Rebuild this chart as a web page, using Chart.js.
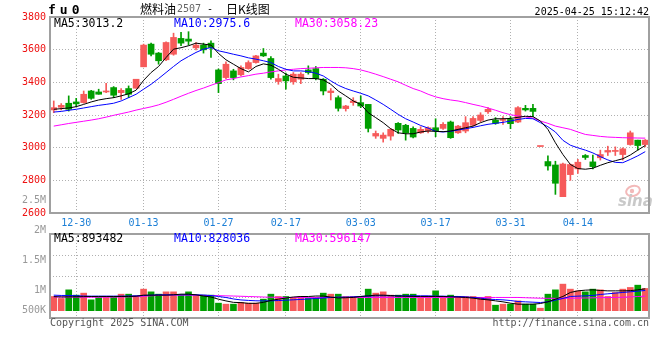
<!DOCTYPE html>
<html>
<head>
<meta charset="utf-8">
<script src="https://cdn.jsdelivr.net/npm/chart.js@4.4.0/dist/chart.umd.min.js"></script>
<style>
  body { margin: 0; background: #fff; }
  #wrap { position: relative; width: 660px; height: 360px; }
  #wrap canvas { position: absolute; left: 0; }
  #kline { top: 0; }
  #vol { top: 190px; }
</style>
</head>
<body>
<div id="wrap">
  <canvas id="kline" width="660" height="228"></canvas>
  <canvas id="vol" width="660" height="170"></canvas>
</div>
<script>
// Trading days shown (fu0, daily)
const dates = ['12-25','12-26','12-27','12-30','12-31','01-02','01-03','01-06','01-07','01-08',
  '01-09','01-10','01-13','01-14','01-15','01-16','01-17','01-20','01-21','01-22',
  '01-23','01-24','01-27','02-05','02-06','02-07','02-10','02-11','02-12','02-13',
  '02-14','02-17','02-18','02-19','02-20','02-21','02-24','02-25','02-26','02-27',
  '02-28','03-03','03-04','03-05','03-06','03-07','03-10','03-11','03-12','03-13',
  '03-14','03-17','03-18','03-19','03-20','03-21','03-24','03-25','03-26','03-27',
  '03-28','03-31','04-01','04-02','04-03','04-07','04-08','04-09','04-10','04-11',
  '04-14','04-15','04-16','04-17','04-18','04-21','04-22','04-23','04-24','04-25'];
const tickDates = ['12-30','01-13','01-27','02-17','03-03','03-17','03-31','04-14'];

const opens = [3231,3247,3272,3280,3276,3347,3341,3341,3368,3337, 3362,3364,3495,3634,3579,3538,3572,3669,3665,3611,
  3628,3640,3476,3429,3470,3446,3484,3521,3579,3546, 3405,3439,3403,3419,3476,3484,3419,3337,3306,3239,
  3276,3276,3265,3071,3057,3071,3149,3137,3118,3091, 3102,3122,3118,3157,3091,3102,3137,3167,3220,3169,
  3167,3173,3157,3241,3241,3007,2915,2894,2700,2835, 2870,2952,2913,2938,2973,2977,2958,3019,3046,3019];
const highs = [3286,3270,3317,3302,3347,3351,3358,3394,3374,3362, 3378,3419,3634,3640,3583,3648,3701,3706,3710,3644,
  3640,3654,3482,3525,3480,3501,3532,3566,3607,3558, 3450,3456,3460,3460,3501,3497,3423,3362,3317,3259,
  3306,3317,3265,3102,3091,3118,3153,3143,3128,3128, 3128,3177,3153,3163,3137,3190,3190,3214,3245,3184,
  3190,3190,3251,3259,3265,3007,2950,2917,2905,2900, 2928,2958,2955,2985,3009,3005,2999,3102,3046,3050];
const lows = [3214,3231,3224,3251,3272,3296,3327,3337,3306,3296, 3306,3364,3495,3562,3511,3532,3566,3624,3628,3599,
  3579,3552,3337,3423,3415,3439,3480,3517,3558,3419, 3388,3358,3388,3392,3450,3415,3323,3292,3224,3224,
  3259,3245,3096,3057,3034,3046,3087,3046,3059,3087, 3091,3067,3112,3057,3087,3091,3132,3157,3210,3143,
  3143,3116,3153,3224,3190,3007,2862,2714,2700,2800, 2842,2928,2870,2924,2952,2952,2924,3015,2985,3005];
const closes = [3245,3259,3235,3268,3327,3302,3327,3347,3321,3351, 3327,3419,3628,3572,3532,3644,3675,3640,3652,3628,
  3599,3613,3392,3511,3429,3491,3521,3562,3562,3429, 3423,3409,3450,3450,3460,3423,3347,3347,3241,3255,
  3286,3255,3118,3087,3077,3112,3108,3091,3065,3112, 3122,3102,3143,3061,3132,3153,3179,3200,3235,3149,
  3173,3147,3245,3231,3222,3007,2888,2782,2900,2897, 2911,2940,2884,2958,2983,2983,2993,3091,3013,3046];

const ma5 = [3235,3239,3243,3251,3265,3280,3292,3300,3306,3317, 3330,3352,3412,3460,3497,3552,3603,3612,3624,3640,
  3634,3628,3577,3538,3511,3484,3464,3497,3513,3505, 3480,3450,3431,3427,3423,3423,3415,3388,3347,3317,
  3286,3265,3214,3184,3153,3116,3091,3085,3085,3096, 3102,3100,3098,3102,3112,3122,3132,3153,3169,3177,
  3177,3179,3186,3192,3190,3163,3112,3030,2958,2897, 2872,2868,2874,2892,2908,2920,2932,2955,2985,3013.2];
const ma10 = [3218,3222,3229,3235,3243,3251,3259,3265,3272,3286, 3306,3327,3358,3388,3423,3460,3497,3532,3558,3583,
  3603,3613,3593,3583,3572,3562,3550,3542,3532,3521, 3497,3480,3470,3470,3466,3456,3439,3409,3382,3362,
  3347,3333,3317,3292,3265,3235,3204,3177,3157,3136, 3120,3100,3096,3100,3108,3116,3124,3134,3143,3149,
  3155,3163,3173,3179,3177,3153,3128,3096,3045,3015, 2999,2985,2968,2945,2925,2910,2908,2928,2950,2975.6];
const ma30 = [3132,3140,3148,3155,3162,3169,3177,3187,3198,3208, 3218,3230,3240,3250,3262,3278,3296,3315,3333,3350,
  3365,3382,3398,3415,3423,3433,3441,3450,3456,3464, 3470,3476,3480,3484,3486,3489,3491,3491,3491,3489,
  3484,3476,3464,3450,3435,3419,3403,3382,3362,3347, 3327,3311,3300,3292,3286,3276,3265,3255,3243,3229,
  3214,3202,3194,3188,3181,3163,3149,3132,3122,3112, 3096,3081,3075,3069,3065,3063,3061,3060,3059,3058.23];
const priceTicks = [2600, 2800, 3000, 3200, 3400, 3600, 3800];

const volumes = [582000,500000,853000,636000,718000,443000,541000,582000,582000,676000,
  676000,607000,882000,771000,676000,771000,771000,640000,771000,636000,
  636000,636000,308000,267000,267000,336000,308000,308000,472000,676000,
  582000,582000,541000,582000,500000,541000,718000,676000,676000,582000,
  582000,582000,882000,718000,771000,636000,636000,676000,676000,582000,
  582000,812000,582000,636000,582000,582000,582000,541000,582000,225000,
  267000,267000,402000,267000,267000,102000,676000,853000,1087000,882000,
  812000,771000,882000,853000,582000,746000,882000,951000,1045000,910000];
const volMa5 = [575000,565000,565000,570000,575000,580000,582000,582000,582000,582000,
  582000,590000,636000,636000,636000,636000,650000,676000,676000,650000,
  600000,560000,470000,400000,340000,330000,300000,300000,340000,420000,
  470000,520000,560000,580000,580000,600000,600000,555000,520000,530000,
  541000,582000,609000,636000,636000,620000,600000,590000,582000,582000,
  582000,582000,582000,568000,555000,541000,514000,471000,443000,402000,
  362000,307000,266000,266000,266000,293000,362000,471000,582000,746000,
  812000,840000,853000,826000,812000,812000,812000,820000,853000,893482];
const volMa10 = [636000,623000,623000,610000,600000,595000,595000,595000,595000,595000,
  600000,610000,620000,636000,650000,650000,650000,650000,650000,650000,
  640000,620000,580000,540000,480000,440000,420000,405000,400000,405000,
  415000,430000,445000,460000,480000,500000,520000,540000,555000,555000,
  568000,582000,595000,609000,609000,609000,609000,609000,609000,609000,
  609000,595000,595000,582000,582000,568000,541000,514000,471000,457000,
  443000,416000,375000,362000,348000,334000,362000,430000,500000,582000,
  595000,609000,623000,664000,691000,718000,746000,773000,800000,828036];
const volMa30 = [560000,558000,555000,552000,550000,550000,550000,552000,555000,560000,
  565000,575000,590000,610000,625000,636000,636000,636000,636000,630000,
  625000,620000,615000,607000,600000,590000,580000,570000,560000,550000,
  545000,541000,541000,541000,541000,541000,541000,541000,541000,541000,
  541000,541000,541000,541000,541000,541000,541000,541000,541000,541000,
  541000,541000,541000,541000,541000,541000,541000,541000,541000,541000,
  541000,541000,541000,530000,520000,510000,505000,505000,505000,510000,
  515000,520000,527000,532000,538000,541000,550000,565000,580000,596147];
const volTickLabels = ['2.5M', '2M', '1.5M', '1M', '500K'];

const UP = '#f65a5a', DOWN = '#009e00';
const MONO = '"DejaVu Sans Mono", "Liberation Mono", monospace';
const CJK = '"Noto Sans CJK SC", sans-serif';
const GRID = '#b0b0b0', FRAME = '#a0a0a0';
const barColors = opens.map((o, i) => closes[i] >= o ? UP : DOWN);
const tickIdx = tickDates.map(d => dates.indexOf(d));
const last = arr => arr[arr.length - 1];

function dateAxis(showLabels) {
    return {
        type: 'category',
        offset: true,
        grid: { color: GRID, lineWidth: 1, offset: false, drawTicks: false },
        border: { display: false, dash: [1, 2] },
        ticks: {
            display: showLabels, autoSkip: false, maxRotation: 0, padding: 4,
            color: '#1c7fd6', font: { family: MONO, size: 10 },
            callback: v => dates[v]
        },
        afterBuildTicks: s => { s.ticks = tickIdx.map(v => ({ value: v })); },
        afterFit: s => { s.height = showLabels ? 15 : 0; }
    };
}

function frame(ctx, a) {
    ctx.strokeStyle = FRAME;
    ctx.lineWidth = 2;
    ctx.strokeRect(a.left, a.top, a.right - a.left, a.bottom - a.top);
}

function legend(ctx, a, y, items) {
    ctx.font = '11.5px ' + MONO;
    ctx.textBaseline = 'middle';
    ctx.textAlign = 'left';
    items.forEach(([txt, color, x]) => {
        ctx.fillStyle = color;
        ctx.fillText(txt, a.left + x, y);
    });
}

// K-line panel: title row, MA legend, frame, sina mark
const klineDecor = {
    id: 'klineDecor',
    beforeDatasetsDraw(chart) {
        const { ctx, chartArea: a } = chart;
        ctx.save();
        ctx.strokeStyle = '#f3b9b9';
        ctx.lineWidth = 2;
        ctx.beginPath();
        ctx.ellipse(a.right - 16, a.bottom - 22, 7, 5, -0.3, 0, Math.PI * 2);
        ctx.stroke();
        ctx.fillStyle = '#f3b9b9';
        ctx.beginPath();
        ctx.arc(a.right - 17, a.bottom - 22, 2.2, 0, Math.PI * 2);
        ctx.fill();
        ctx.font = 'italic bold 15px "DejaVu Sans"';
        ctx.fillStyle = '#c9c9c9';
        ctx.textBaseline = 'alphabetic';
        ctx.fillText('sina', a.right - 31, a.bottom - 7);
        ctx.restore();
    },
    afterDraw(chart) {
        const { ctx, chartArea: a } = chart;
        ctx.save();
        frame(ctx, a);

        ctx.textBaseline = 'middle';
        ctx.fillStyle = '#000';
        ctx.font = 'bold 13px ' + MONO;
        ctx.letterSpacing = '4px';
        ctx.fillText('fu0', 48, 11);
        ctx.letterSpacing = '0px';

        ctx.font = '12px ' + CJK;
        ctx.fillText('燃料油', 140, 9);
        ctx.font = '10px ' + MONO;
        ctx.fillStyle = '#666';
        ctx.fillText('2507', 177, 9);
        ctx.fillStyle = '#000';
        ctx.fillText('-', 207, 9);
        ctx.font = '12px ' + CJK;
        ctx.fillText('日K线图', 226, 9);

        ctx.font = '10px ' + MONO;
        ctx.textAlign = 'right';
        ctx.fillText('2025-04-25 15:12:42', 649, 12);

        legend(ctx, a, a.top + 7, [
            ['MA5:' + last(ma5), '#000', 4],
            ['MA10:' + last(ma10), '#0000ff', 124],
            ['MA30:' + last(ma30), '#ff00ff', 245]
        ]);
        ctx.restore();
    }
};

// Volume panel: axis labels, MA legend, frame, footer
const volDecor = {
    id: 'volDecor',
    afterDraw(chart) {
        const { ctx, chartArea: a } = chart;
        ctx.save();
        frame(ctx, a);

        // Sina prints these on a 30px pitch starting above the panel, not on the gridlines
        ctx.font = '10px ' + MONO;
        ctx.fillStyle = '#999';
        ctx.textAlign = 'right';
        ctx.textBaseline = 'middle';
        volTickLabels.forEach((t, k) => {
            ctx.fillText(t, a.left - 4, Math.min(a.top - 33.5 + k * 30, a.bottom - 7.5));
        });

        legend(ctx, a, a.top + 5, [
            ['MA5:' + last(volMa5), '#000', 4],
            ['MA10:' + last(volMa10), '#0000ff', 124],
            ['MA30:' + last(volMa30), '#ff00ff', 245]
        ]);

        ctx.font = '10px ' + MONO;
        ctx.fillStyle = '#555';
        ctx.textAlign = 'left';
        ctx.fillText('Copyright 2025 SINA.COM', a.left, a.bottom + 5);
        ctx.textAlign = 'right';
        ctx.fillText('http://finance.sina.com.cn', a.right, a.bottom + 5);
        ctx.restore();
    }
};

const maLine = (data, color) => ({
    type: 'line', data, borderColor: color, borderWidth: 1,
    pointRadius: 0, tension: 0, order: 0
});

const common = {
    responsive: false,
    animation: false,
    devicePixelRatio: 1,
    events: [],
    plugins: { legend: { display: false }, tooltip: { enabled: false } }
};

// Candles: floating bars for wicks [low, high] and bodies [open, close]
new Chart(document.getElementById('kline'), {
    type: 'bar',
    data: {
        labels: dates,
        datasets: [
            {
                data: dates.map((d, i) => [lows[i], highs[i]]),
                backgroundColor: barColors, barThickness: 1, grouped: false, order: 2
            },
            {
                data: dates.map((d, i) => [opens[i], closes[i]]),
                backgroundColor: barColors, barThickness: 6, minBarLength: 1, grouped: false, order: 1
            },
            maLine(ma5, '#000000'),
            maLine(ma10, '#0000ff'),
            maLine(ma30, '#ff00ff')
        ]
    },
    options: {
        ...common,
        layout: { padding: { left: 0, right: 11, top: 17, bottom: 0 } },
        scales: {
            x: dateAxis(true),
            y: {
                min: priceTicks[0], max: last(priceTicks),
                grid: { color: GRID, lineWidth: 1, drawTicks: false },
                border: { display: false, dash: [1, 2] },
                ticks: { color: '#ee1111', font: { family: MONO, size: 10 }, padding: 4, callback: v => v },
                afterBuildTicks: s => { s.ticks = priceTicks.map(v => ({ value: v })); },
                afterFit: s => { s.width = 50; }
            }
        }
    },
    plugins: [klineDecor]
});

new Chart(document.getElementById('vol'), {
    type: 'bar',
    data: {
        labels: dates,
        datasets: [
            { data: volumes, backgroundColor: barColors, barThickness: 6, grouped: false, order: 1 },
            maLine(volMa5, '#000000'),
            maLine(volMa10, '#0000ff'),
            maLine(volMa30, '#ff00ff')
        ]
    },
    options: {
        ...common,
        layout: { padding: { left: 0, right: 11, top: 44, bottom: 42 } },
        scales: {
            x: dateAxis(false),
            y: {
                min: -300000, max: 3140000,
                grid: { color: GRID, lineWidth: 1, drawTicks: false },
                border: { display: false, dash: [1, 2] },
                ticks: { display: false },
                afterBuildTicks: s => {
                    const step = (s.max - s.min) / 4;
                    s.ticks = [0, 1, 2, 3, 4].map(k => ({ value: s.min + k * step }));
                },
                afterFit: s => { s.width = 50; }
            }
        }
    },
    plugins: [volDecor]
});
</script>
</body>
</html>
